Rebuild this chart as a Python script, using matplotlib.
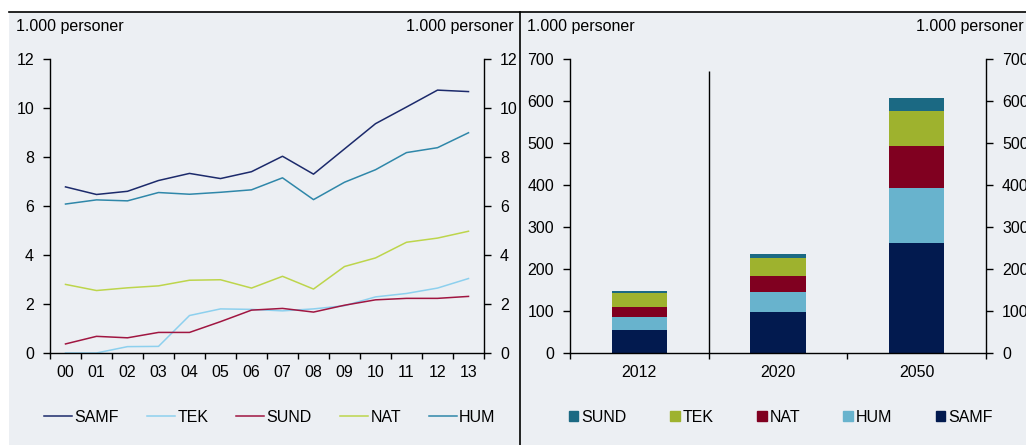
import matplotlib.pyplot as plt
from matplotlib.lines import Line2D
from matplotlib.patches import Rectangle, Patch

plt.rcParams['font.family'] = ['Liberation Sans', 'DejaVu Sans']
plt.rcParams['font.size'] = 11.5

# Left panel: annual figures, 1.000 personer
years = ['00', '01', '02', '03', '04', '05', '06', '07', '08', '09', '10', '11', '12', '13']
samf = [6.78, 6.47, 6.60, 7.04, 7.33, 7.12, 7.40, 8.03, 7.30, 8.33, 9.36, 10.04, 10.73, 10.67]
tek = [0.0, 0.0, 0.26, 0.27, 1.53, 1.80, 1.78, 1.72, 1.80, 1.93, 2.29, 2.43, 2.65, 3.04]
sund = [0.37, 0.68, 0.62, 0.84, 0.84, 1.28, 1.75, 1.82, 1.67, 1.95, 2.17, 2.23, 2.23, 2.31]
nat = [2.80, 2.55, 2.66, 2.74, 2.97, 2.99, 2.65, 3.13, 2.61, 3.53, 3.88, 4.52, 4.69, 4.97]
hum = [6.08, 6.25, 6.21, 6.55, 6.48, 6.56, 6.66, 7.15, 6.26, 6.97, 7.48, 8.18, 8.38, 8.99]

line_names = ['SAMF', 'TEK', 'SUND', 'NAT', 'HUM']
line_colors = ['#1c2a6b', '#8dd0ee', '#a01641', '#bdd54b', '#2f87a9']

# Right panel: stacked bars, 1.000 personer
periods = ['2012', '2020', '2050']
bar_samf = [55.5, 96.7, 262.5]
bar_hum = [29.4, 48.4, 130.8]
bar_nat = [24.5, 38.1, 99.2]
bar_tek = [32.5, 42.0, 84.8]
bar_sund = [6.3, 10.3, 30.9]

bar_names = ['SAMF', 'HUM', 'NAT', 'TEK', 'SUND']
bar_colors = ['#021a4f', '#68b3cd', '#800020', '#9eb22e', '#1b6983']

bg = '#eceff3'
W, H = 1026, 445

fig = plt.figure(figsize=(W / 100, H / 100), dpi=100)
fig.patches.append(Rectangle((9 / W, 0), 1 - 9 / W, 1 - 12 / H, transform=fig.transFigure,
                             facecolor=bg, edgecolor='none', zorder=-10))
fig.add_artist(Line2D([9 / W, 1], [1 - 12 / H, 1 - 12 / H], color='black', lw=1.2,
                      transform=fig.transFigure))
fig.add_artist(Line2D([519.5 / W, 519.5 / W], [0, 1 - 12 / H], color='black', lw=1.2,
                      transform=fig.transFigure))

bottom = 1 - 353 / H
height = 294 / H
ax1 = fig.add_axes([50 / W, bottom, 434 / W, height])
ax2 = fig.add_axes([570 / W, bottom, 416 / W, height])


def style(ax):
    ax.set_facecolor('none')
    ax.spines['top'].set_visible(False)
    for s in ['left', 'right', 'bottom']:
        ax.spines[s].set_linewidth(1.0)
    ax.tick_params(axis='y', which='both', direction='out', length=5, width=1,
                   left=True, right=True, labelleft=True, labelright=True, pad=6.5)
    ax.tick_params(axis='x', which='major', length=0, pad=8.5)
    ax.tick_params(axis='x', which='minor', direction='out', length=4, width=1)


# line chart
x = list(range(len(years)))
for vals, name, col in zip([samf, tek, sund, nat, hum], line_names, line_colors):
    ax1.plot(x, vals, color=col, lw=1.1, label=name)
ax1.set_xlim(-0.5, len(years) - 0.5)
ax1.set_ylim(0, 12)
ax1.set_yticks(range(0, 13, 2))
ax1.set_xticks(x)
ax1.set_xticklabels(years)
ax1.set_xticks([i - 0.5 for i in range(len(years) + 1)], minor=True)
style(ax1)
ax1.legend(loc='center', bbox_to_anchor=(270 / W, 1 - 417 / H), bbox_transform=fig.transFigure,
           ncol=5, frameon=False, handlelength=1.75, handletextpad=0.15, columnspacing=1.75)

# stacked bars
xb = list(range(len(periods)))
base = [0, 0, 0]
for vals, name, col in zip([bar_samf, bar_hum, bar_nat, bar_tek, bar_sund], bar_names, bar_colors):
    ax2.bar(xb, vals, 0.4, bottom=base, color=col, label=name, edgecolor='none')
    base = [b + v for b, v in zip(base, vals)]
ax2.vlines(0.5, 0, 671, color='black', lw=1.0)
ax2.set_xlim(-0.5, 2.5)
ax2.set_ylim(0, 700)
ax2.set_yticks(range(0, 701, 100))
ax2.set_xticks(xb)
ax2.set_xticklabels(periods)
ax2.set_xticks([-0.5, 0.5, 1.5, 2.5], minor=True)
style(ax2)
handles = [Patch(color=c, label=n) for n, c in zip(bar_names, bar_colors)][::-1]
ax2.legend(handles=handles, loc='center', bbox_to_anchor=(781 / W, 1 - 417 / H),
           bbox_transform=fig.transFigure, ncol=5, frameon=False, handlelength=0.6,
           handleheight=0.6, handletextpad=0.2, columnspacing=2.7)

# unit labels
ty = 1 - 27 / H
fig.text(16 / W, ty, '1.000 personer', ha='left', va='center')
fig.text(514 / W, ty, '1.000 personer', ha='right', va='center')
fig.text(527 / W, ty, '1.000 personer', ha='left', va='center')
fig.text(1024 / W, ty, '1.000 personer', ha='right', va='center')

fig.savefig('out.png', dpi=100)
